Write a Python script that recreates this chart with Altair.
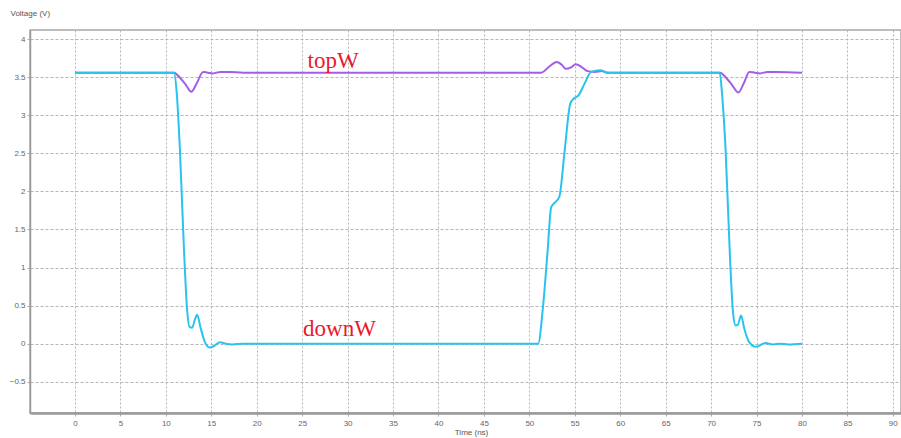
import altair as alt
import pandas as pd

# Transient voltages of the two word lines (time in ns, voltage in V)
top_t = [0, 10.9, 11.5, 12.2, 12.8, 13.4, 14.1, 14.6, 15.2, 16.0, 17.0, 18.5,
         51.3, 52.2, 53.0, 53.6, 54.0, 54.6, 55.1, 55.8, 56.4, 57.2, 58.0, 58.6,
         71.0, 71.6, 72.3, 73.0, 73.6, 74.2, 74.8, 75.4, 76.2, 77.2, 80.0]
top_v = [3.56, 3.56, 3.50, 3.40, 3.31, 3.42, 3.57, 3.56, 3.55, 3.57, 3.57, 3.56,
         3.56, 3.64, 3.70, 3.66, 3.61, 3.63, 3.67, 3.63, 3.58, 3.57, 3.58, 3.56,
         3.56, 3.50, 3.40, 3.30, 3.42, 3.57, 3.56, 3.55, 3.57, 3.57, 3.56]

down_t = [0, 10.9, 11.2, 11.55, 12.0, 12.35, 12.6, 12.9, 13.2, 13.45, 13.8, 14.3,
          14.8, 15.3, 15.95, 16.6, 17.3, 18.5,
          50.97, 51.5, 52.0, 52.4, 52.7, 53.3, 53.9, 54.5, 54.9, 55.4, 56.1, 56.8,
          57.8, 58.6,
          70.95, 71.2, 71.6, 72.05, 72.4, 72.7, 72.95, 73.3, 73.65, 74.2, 74.9,
          75.4, 76.0, 76.8, 77.6, 78.5, 80.0]
down_v = [3.56, 3.56, 3.29, 2.54, 1.22, 0.43, 0.22, 0.21, 0.32, 0.38, 0.22, 0.02,
          -0.05, -0.03, 0.02, 0.0, -0.01, 0.0,
          0.0, 0.48, 1.20, 1.79, 1.84, 1.93, 2.55, 3.15, 3.22, 3.26, 3.42, 3.57,
          3.59, 3.56,
          3.56, 3.29, 2.54, 1.22, 0.43, 0.24, 0.25, 0.37, 0.20, 0.02, -0.04,
          -0.02, 0.01, -0.01, 0.0, -0.01, 0.0]

x_ticks = list(range(0, 95, 5))
y_ticks = [-0.5, 0, 0.5, 1, 1.5, 2, 2.5, 3, 3.5, 4]

top_df = pd.DataFrame({"t": top_t, "v": top_v})
down_df = pd.DataFrame({"t": down_t, "v": down_v})

W, H = 871, 383

x_scale = alt.Scale(domain=[-4.95, 90.9], nice=False, zero=False)
y_scale = alt.Scale(domain=[-0.91, 4.12], nice=False, zero=False)

x_enc = alt.X(
    "t:Q", scale=x_scale,
    axis=alt.Axis(
        values=x_ticks, title="Time (ns)", titleX=441, titleY=19,
        titleAlign="center", titleBaseline="middle",
        titleFontSize=8, titleFontWeight="normal", titleColor="#555",
        titleFont="Liberation Sans",
        domainColor="#9a9a9a", domainWidth=2.5,
        grid=True, gridColor="#b5b5b5", gridDash=[2, 2], gridWidth=1,
        tickColor="#aaa", tickSize=3, labelPadding=3,
        labelFontSize=8, labelColor="#666", labelFont="Liberation Sans",
    ),
)
y_enc = alt.Y(
    "v:Q", scale=y_scale,
    axis=alt.Axis(
        values=y_ticks, format="~g", title="Voltage (V)", titleAngle=0,
        titleX=-20, titleY=-17, titleAlign="left", titleBaseline="middle",
        titleFontSize=8, titleFontWeight="normal", titleColor="#555",
        titleFont="Liberation Sans",
        domainColor="#9a9a9a", domainWidth=1.5,
        grid=True, gridColor="#b5b5b5", gridDash=[3, 2], gridWidth=1,
        tickColor="#aaa", tickSize=3, labelPadding=2,
        labelFontSize=8, labelColor="#666", labelFont="Liberation Sans",
    ),
)

top_line = alt.Chart(top_df).mark_line(
    color="#a45ee6", strokeWidth=2, interpolate="monotone"
).encode(x=x_enc, y=y_enc)

down_line = alt.Chart(down_df).mark_line(
    color="#28c4ee", strokeWidth=2, interpolate="monotone"
).encode(x="t:Q", y="v:Q")

label_style = dict(font="Liberation Serif", fontSize=23, color="#e8192c",
                   align="left", baseline="alphabetic")

top_label = alt.Chart().mark_text(**label_style).encode(
    x=alt.datum(25.6), y=alt.datum(3.62), text=alt.value("topW")
)
down_label = alt.Chart().mark_text(**label_style).encode(
    x=alt.datum(25.1), y=alt.datum(0.105), text=alt.value("downW")
)

chart = alt.layer(top_line, down_line, top_label, down_label).properties(
    width=W, height=H,
    autosize=alt.AutoSizeParams(type="none"),
    padding={"left": 30, "top": 30, "right": 0, "bottom": 25},
    background="white",
).configure_view(stroke="#a8a8a8", strokeWidth=1.5)

chart.save("out.html", embed_options={"renderer": "svg", "actions": False})
